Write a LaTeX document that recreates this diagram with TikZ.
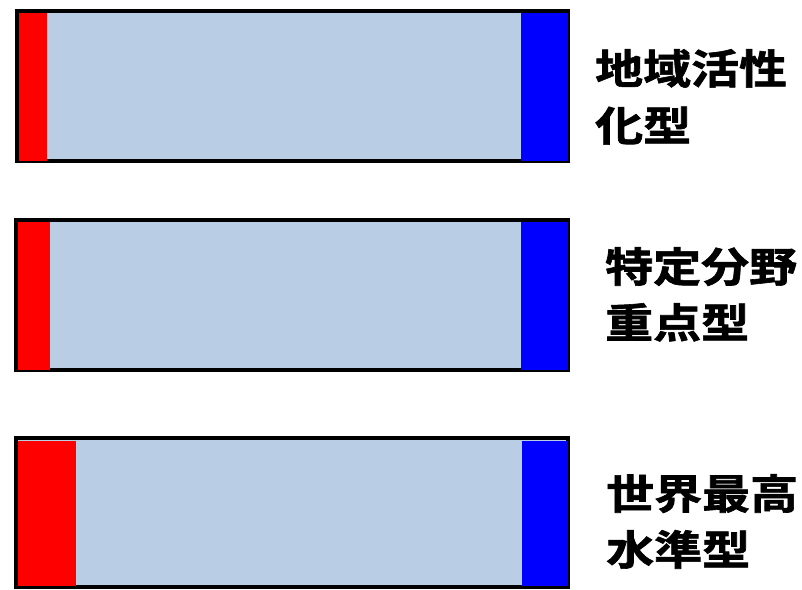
\documentclass[tikz,border=0pt]{standalone}
\usepackage{fontspec}
\newfontfamily\cjk[FakeBold=1.5]{Noto Sans CJK JP Bold}
\definecolor{barfill}{HTML}{B9CDE5}
\begin{document}
\begin{tikzpicture}[x=1pt,y=-1pt,
  barbox/.style={draw=black,line width=4pt,fill=barfill},
  redpart/.style={fill=red,draw=none},
  bluepart/.style={fill=blue,draw=none},
  label/.style={anchor=base west,inner sep=0pt,font=\cjk\fontsize{41}{41}\selectfont}]
\useasboundingbox (0,0) rectangle (802,589);
% bar 1
\draw[barbox] (17,11) rectangle (568,161);
\fill[redpart] (19,13) rectangle (47,161);
\fill[bluepart] (521,13) rectangle (568,161);
% bar 2
\draw[barbox] (16,220) rectangle (568,370);
\fill[redpart] (18,222) rectangle (50,370);
\fill[bluepart] (521,222) rectangle (568,370);
% bar 3
\draw[barbox] (16,438) rectangle (568,587);
\fill[redpart] (18,441) rectangle (76,586);
\fill[bluepart] (522,441) rectangle (568,586);
% labels
\node[label] (t1a) at (595,84) {\scalebox{1.17}[1]{地域活性}};
\node[label] (t1b) at (595,141) {\scalebox{1.17}[1]{化型}};
\node[label] (t2a) at (605,282) {\scalebox{1.17}[1]{特定分野}};
\node[label] (t2b) at (605,338) {\scalebox{1.17}[1]{重点型}};
\node[label] (t3a) at (606,509) {\scalebox{1.17}[1]{世界最高}};
\node[label] (t3b) at (606,565) {\scalebox{1.17}[1]{水準型}};
\end{tikzpicture}
\end{document}
